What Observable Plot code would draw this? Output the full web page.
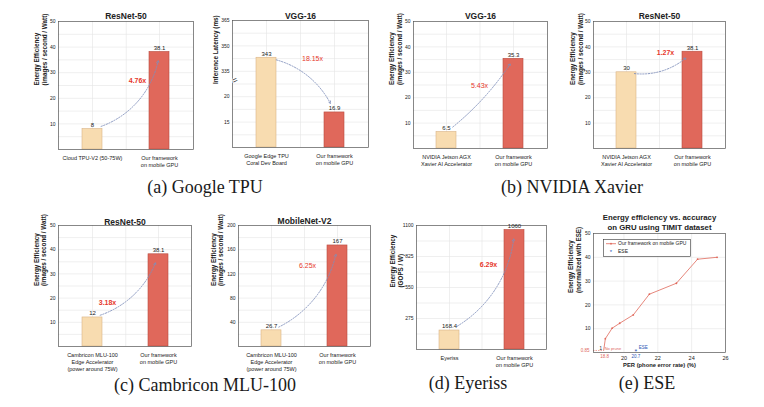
<!DOCTYPE html>
<html><head><meta charset="utf-8">
<script src="https://cdn.jsdelivr.net/npm/d3@7"></script>
<script src="https://cdn.jsdelivr.net/npm/@observablehq/plot@0.6"></script>
<style>
html,body{margin:0;padding:0;background:#fff;}
#root{position:relative;width:764px;height:407px;overflow:hidden;background:#fff;}
.panel{position:absolute;}
.cap{position:absolute;width:300px;text-align:center;font-family:"Liberation Serif","DejaVu Serif",serif;font-size:18px;line-height:18px;color:#1a1a1a;white-space:nowrap;}
</style></head><body><div id="root"></div>
<script>
// ---------------- data ----------------
const catOurs = "Our framework\non mobile GPU";

const catsTPUResNet = ["Cloud TPU-V2 (50-75W)", catOurs];
const valsTPUResNet = [8, 38.1];
const labelsTPUResNet = ["8", "38.1"];
const ratioTPUResNet = "4.76x";

const catsTPUVGG = ["Google Edge TPU\nCoral Dev Board", catOurs];
const valsTPUVGG = [343, 16.9];
const labelsTPUVGG = ["343", "16.9"];
const ratioTPUVGG = "18.15x";
const tickLabelsTPUVGG = ["", "15", "20", "335", "350", "365"]; // broken axis, evenly spaced

const catsXavier = ["NVIDIA Jetson AGX\nXavier AI Accelerator", catOurs];
const valsXavierVGG = [6.5, 35.3];
const labelsXavierVGG = ["6.5", "35.3"];
const ratioXavierVGG = "5.43x";
const valsXavierResNet = [30, 38.1];
const labelsXavierResNet = ["30", "38.1"];
const ratioXavierResNet = "1.27x";

const catsMLU = ["Cambricon MLU-100\nEdge Accelerator\n(power around 75W)", catOurs];
const valsMLUResNet = [12, 38.1];
const labelsMLUResNet = ["12", "38.1"];
const ratioMLUResNet = "3.18x";
const valsMLUMobileNet = [26.7, 167];
const labelsMLUMobileNet = ["26.7", "167"];
const ratioMLUMobileNet = "6.25x";

const catsEyeriss = ["Eyeriss", catOurs];
const valsEyeriss = [168.4, 1060];
const labelsEyeriss = ["168.4", "1060"];
const ratioEyeriss = "6.29x";

const perOurs = [18.8, 18.9, 19.3, 19.75, 20.55, 21.5, 23.1, 24.35, 25.5];
const effOurs = [0.85, 5.8, 10.2, 12.3, 15.8, 24.5, 29.1, 39.2, 40.0];
const perESE = [20.7];
const effESE = [1];
const legendLabels = ["Our framework on mobile GPU", "ESE"];

// ---------------- styles ----------------
const RED = "#e0685b", RED_S = "#b94c40", BEIGE = "#f8dcb0", BEIGE_S = "#d9b487";
const ARROW = "#7f8fba", RATIO = "#e6382c", GRID = "#e4e4e4", FRAME = "#555", BLUE = "#2b55b5";
const FONT = "'Liberation Sans', Arial, sans-serif";
const root = document.getElementById("root");

function place(node, left, top) {
  const d = document.createElement("div");
  d.className = "panel";
  d.style.left = left + "px"; d.style.top = top + "px";
  d.appendChild(node);
  root.appendChild(d);
}

function barPanel(o, L) {
  const tf = o.tf || (v => v);
  const data = o.cats.map((c, i) => ({
    cat: c, v: tf(o.vals[i]), label: o.labels[i],
    fill: i ? RED : BEIGE, stroke: i ? RED_S : BEIGE_S
  }));
  const [a, b] = data;
  const frameW = L.width - L.ml - L.mr;
  const arrowD = [{x1: a.cat, y1: a.v, x2: b.cat, y2: b.v}];
  const ratioD = [{x: b.cat, y: a.v + o.rt * (b.v - a.v), text: o.ratio}];
  const marks = [
    Plot.ruleY(o.grid, {stroke: GRID, strokeWidth: 0.6}),
    Plot.ruleX(o.cats, {stroke: GRID, strokeWidth: 0.6}),
    Plot.ruleX([o.cats[0]], {stroke: GRID, strokeWidth: 0.6, dx: frameW / 4}),
    Plot.barY(data, {x: "cat", y: "v", fill: "fill", stroke: "stroke", strokeWidth: 0.6}),
    Plot.axisY({ticks: o.ticks, tickFormat: o.tickFormat || (d => String(d)), tickSize: 0, tickPadding: 3, label: null, fontSize: 5}),
    Plot.axisX({tickSize: 0, tickPadding: 5, lineHeight: 1.3, label: null}),
    Plot.frame({stroke: FRAME, strokeWidth: 0.7}),
    Plot.text(data, {x: "cat", y: "v", text: "label", dy: -4, fontSize: 6, fill: "#222"}),
    Plot.arrow(arrowD, {x1: "x1", y1: "y1", x2: "x2", y2: "y2", bend: o.bend,
      insetStart: o.inS, insetEnd: o.inE, stroke: ARROW, strokeWidth: 0.9,
      strokeDasharray: "1.3 1.5", headLength: 4}),
    Plot.text(ratioD, {x: "x", y: "y", text: "text", dx: o.rdx, fill: RATIO,
      fontSize: 7, fontWeight: o.rbold ? "bold" : "normal"}),
    Plot.text([o.ylabel], {frameAnchor: "left", rotate: -90, dx: o.ydx, text: d => d,
      fontWeight: "bold", fontSize: 6.3, lineHeight: 1.2, fill: "#222"})
  ];
  if (o.title) marks.push(Plot.text([o.title], {frameAnchor: "top", dy: o.tdy, text: d => d,
      fontWeight: "bold", fontSize: 8.5, fill: "#222"}));
  if (o.extra) marks.push(...o.extra);
  const svg = Plot.plot({
    width: L.width, height: L.height,
    marginTop: L.mt, marginRight: L.mr, marginBottom: L.mb, marginLeft: L.ml,
    style: {fontFamily: FONT, fontSize: "5.5px", color: "#1a1a1a", background: "transparent", overflow: "visible"},
    x: {type: "band", domain: o.cats, paddingInner: 0.7, paddingOuter: 0.35},
    y: {domain: o.domain},
    color: {type: "identity"},
    marks
  });
  place(svg, L.left, L.top);
}

const yEE = "Energy Efficiency\n(images / second / Watt)";

// (a) ResNet-50 on Cloud TPU
barPanel({title: "ResNet-50", tdy: -9, cats: catsTPUResNet, vals: valsTPUResNet, labels: labelsTPUResNet,
  ratio: ratioTPUResNet, rt: 0.62, rdx: -22, rbold: true, domain: [0, 50],
  ticks: [10, 20, 30, 40, 50], grid: d3.range(5, 50, 5), ylabel: yEE, ydx: -18,
  bend: -35, inS: 9, inE: 9},
  {left: 0, top: 0, width: 200, height: 175, mt: 21, mr: 7, mb: 26, ml: 58});

// (a) VGG-16 latency on Edge TPU (broken axis)
const brk = v => v < 100 ? (v - 10) / 5 : 3 + (v - 335) / 15;
const breakAt = [2.6];
barPanel({title: "VGG-16", tdy: -8, cats: catsTPUVGG, vals: valsTPUVGG, labels: labelsTPUVGG, tf: brk,
  ratio: ratioTPUVGG, rt: 0.02, rdx: -22, rbold: false, domain: [0, 5],
  ticks: [1, 2, 3, 4, 5], tickFormat: i => tickLabelsTPUVGG[i], grid: d3.range(0.5, 5, 0.5),
  ylabel: "Inference Latency (ms)", ydx: -17, bend: 30, inS: 10, inE: 10,
  extra: [Plot.text(breakAt, {y: d => d, frameAnchor: "left", text: () => "=", rotate: -25, fontSize: 9,
    fill: "#333", stroke: "#fff", strokeWidth: 1.6, paintOrder: "stroke"})]},
  {left: 195, top: 0, width: 180, height: 175, mt: 20, mr: 7, mb: 28, ml: 37});

// (b) VGG-16 on Xavier
barPanel({title: "VGG-16", tdy: -9, cats: catsXavier, vals: valsXavierVGG, labels: labelsXavierVGG,
  ratio: ratioXavierVGG, rt: 0.635, rdx: -34, rbold: false, domain: [0, 50],
  ticks: [10, 20, 30, 40, 50], grid: d3.range(5, 50, 5), ylabel: yEE, ydx: -18,
  bend: -10, inS: 8, inE: 6},
  {left: 385, top: 0, width: 170, height: 175, mt: 21, mr: 8, mb: 27, ml: 28});

// (b) ResNet-50 on Xavier
barPanel({title: "ResNet-50", tdy: -9, cats: catsXavier, vals: valsXavierResNet, labels: labelsXavierResNet,
  ratio: ratioXavierResNet, rt: 0.96, rdx: -27, rbold: true, domain: [0, 50],
  ticks: [10, 20, 30, 40, 50], grid: d3.range(5, 50, 5), ylabel: yEE, ydx: -17,
  bend: -30, inS: 8, inE: 9},
  {left: 565, top: 0, width: 199, height: 175, mt: 21, mr: 39, mb: 27, ml: 28});

// (c) ResNet-50 on MLU-100
barPanel({title: "ResNet-50", tdy: -7, cats: catsMLU, vals: valsMLUResNet, labels: labelsMLUResNet,
  ratio: ratioMLUResNet, rt: 0.24, rdx: -51, rbold: true, domain: [0, 50],
  ticks: [10, 20, 30, 40, 50], grid: d3.range(5, 50, 5), ylabel: yEE, ydx: -18.5,
  bend: -30, inS: 8, inE: 9},
  {left: 0, top: 190, width: 200, height: 190, mt: 35, mr: 9, mb: 34, ml: 58});

// (c) MobileNet-V2 on MLU-100
barPanel({title: "MobileNet-V2", tdy: -8, cats: catsMLU, vals: valsMLUMobileNet, labels: labelsMLUMobileNet,
  ratio: ratioMLUMobileNet, rt: 0.76, rdx: -30, rbold: false, domain: [0, 200],
  ticks: [40, 80, 120, 160, 200], grid: d3.range(20, 200, 20), ylabel: yEE, ydx: -21.5,
  bend: -30, inS: 8, inE: 9},
  {left: 195, top: 190, width: 180, height: 190, mt: 35, mr: 5, mb: 34, ml: 43});

// (d) Eyeriss
barPanel({cats: catsEyeriss, vals: valsEyeriss, labels: labelsEyeriss,
  ratio: ratioEyeriss, rt: 0.657, rdx: -26, rbold: true, domain: [0, 1100],
  ticks: [275, 550, 825, 1100], grid: d3.range(137.5, 1100, 137.5),
  ylabel: "Energy Efficiency\n(GOPS / W)", ydx: -20,
  bend: -30, inS: 9, inE: 9},
  {left: 385, top: 190, width: 175, height: 190, mt: 35, mr: 14, mb: 31, ml: 31});

// (e) ESE line chart
{
  const xDom = [18.2, 26], yDom = [0, 50];
  const ours = perOurs.map((p, i) => ({per: p, eff: effOurs[i]}));
  const ese = perESE.map((p, i) => ({per: p, eff: effESE[i]}));
  const noPrune = ours[0];
  const svg = Plot.plot({
    width: 204, height: 190, marginTop: 43, marginRight: 39, marginBottom: 28, marginLeft: 33,
    style: {fontFamily: FONT, fontSize: "5.5px", color: "#1a1a1a", background: "transparent", overflow: "visible"},
    x: {domain: xDom},
    y: {domain: yDom},
    marks: [
      Plot.ruleY([10, 20, 30, 40], {stroke: GRID, strokeWidth: 0.6}),
      Plot.ruleX([20, 22, 24], {stroke: GRID, strokeWidth: 0.6}),
      Plot.ruleY([noPrune], {y: "eff", x1: xDom[0], x2: "per", stroke: RED, strokeWidth: 0.6, strokeDasharray: "1.5 1"}),
      Plot.line(ours, {x: "per", y: "eff", stroke: RED, strokeWidth: 0.8}),
      Plot.dot(ours.slice(1), {x: "per", y: "eff", r: 0.9, fill: RED}),
      Plot.text(ese, {x: "per", y: "eff", text: () => "*", fill: BLUE, fontSize: 7, dy: 1.5}),
      Plot.axisX({ticks: [20, 22, 24, 26], tickSize: 0, tickPadding: 4, label: null, fontSize: 5.5}),
      Plot.axisY({ticks: [10, 20, 30, 40, 50], tickSize: 0, tickPadding: 3, label: null, fontSize: 5}),
      Plot.frame({stroke: FRAME, strokeWidth: 0.7}),
      Plot.text([noPrune], {y: "eff", frameAnchor: "left", text: d => String(d.eff), dx: -4, textAnchor: "end", fill: RED, fontSize: 4.5}),
      Plot.text([noPrune], {x: "per", frameAnchor: "bottom", text: d => String(d.per), dy: 2.5, dx: 1, lineAnchor: "top", fill: RED, fontSize: 4.5}),
      Plot.text([noPrune], {x: "per", y: "eff", text: () => "No prune", dx: 1, dy: -2, textAnchor: "start", fill: RED, fontSize: 4}),
      Plot.text(ese, {x: "per", frameAnchor: "bottom", text: d => String(d.per), dy: 2.5, lineAnchor: "top", fill: BLUE, fontSize: 4.5}),
      Plot.text(ese, {x: "per", y: "eff", text: () => "ESE", dx: 3, dy: -3, textAnchor: "start", fill: BLUE, fontSize: 4.5}),
      Plot.text(ese, {y: "eff", frameAnchor: "left", text: d => String(d.eff), dx: 6, dy: -2, fill: "#222", fontSize: 4.5}),
      Plot.text(["Energy efficiency vs. accuracy\non GRU using TIMIT dataset"], {frameAnchor: "top", text: d => d,
        lineAnchor: "bottom", dy: -3.5, fontWeight: "bold", fontSize: 7.8, lineHeight: 1.25, fill: "#222"}),
      Plot.text(["PER (phone error rate) (%)"], {frameAnchor: "bottom", text: d => d, lineAnchor: "top",
        dy: 10, fontWeight: "bold", fontSize: 5.8, fill: "#222"}),
      Plot.text(["Energy Efficiency\n(normalized with ESE)"], {frameAnchor: "left", rotate: -90, dx: -19, text: d => d,
        fontWeight: "bold", fontSize: 6.3, lineHeight: 1.2, fill: "#222"})
    ]
  });
  place(svg, 560, 190);

  // legend (drawn over the plot, top-left inside the frame)
  const lg = d3.create("svg").attr("width", 88).attr("height", 18)
    .attr("font-family", FONT).attr("font-size", 5).style("overflow", "visible");
  lg.append("rect").attr("x", 0.3).attr("y", 0.3).attr("width", 87).attr("height", 17)
    .attr("fill", "#fff").attr("stroke", "#333").attr("stroke-width", 0.6);
  lg.append("line").attr("x1", 3).attr("x2", 13).attr("y1", 4.7).attr("y2", 4.7)
    .attr("stroke", RED).attr("stroke-width", 0.8);
  lg.append("circle").attr("cx", 8).attr("cy", 4.7).attr("r", 0.9).attr("fill", RED);
  lg.append("text").attr("x", 15).attr("y", 4.7).attr("dy", "0.35em").attr("fill", "#222").text(legendLabels[0]);
  lg.append("text").attr("x", 8).attr("y", 12.5).attr("dy", "0.45em").attr("fill", BLUE)
    .attr("text-anchor", "middle").attr("font-size", 6).text("*");
  lg.append("text").attr("x", 15).attr("y", 12.3).attr("dy", "0.35em").attr("fill", "#222").text(legendLabels[1]);
  place(lg.node(), 603, 239);
}

// ---------------- captions ----------------
const captions = [
  ["(a) Google TPU", 205, 187],
  ["(b) NVIDIA Xavier", 572, 187],
  ["(c) Cambricon MLU-100", 205, 385],
  ["(d) Eyeriss", 468, 383],
  ["(e) ESE", 647, 383]
];
for (const [t, x, y] of captions) {
  const d = document.createElement("div");
  d.className = "cap"; d.textContent = t;
  d.style.left = (x - 150) + "px"; d.style.top = (y - 9) + "px";
  root.appendChild(d);
}
</script></body></html>
